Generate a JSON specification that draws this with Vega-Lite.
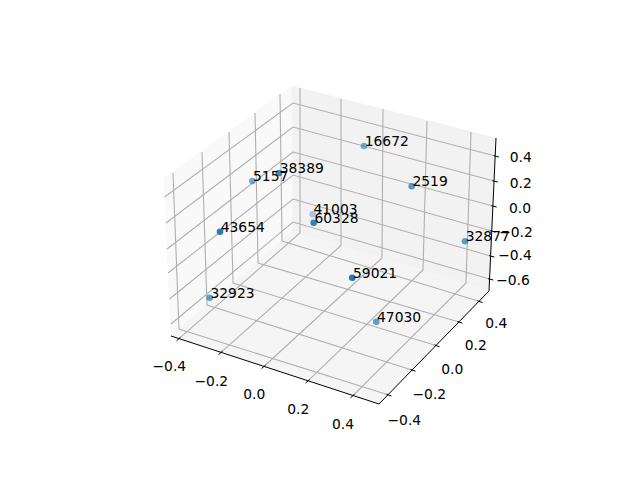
{"$schema":"https://vega.github.io/schema/vega-lite/v6.json","width":640,"height":480,"padding":0,"autosize":{"type":"none"},"background":"white","config":{"view":{"stroke":null}},
"datasets":{
"panes":[
{"pane":"left","n":0,"h":171,"v":336},{"pane":"left","n":1,"h":164,"v":178},{"pane":"left","n":2,"h":292,"v":86},{"pane":"left","n":3,"h":293,"v":231},
{"pane":"right","n":0,"h":293,"v":231},{"pane":"right","n":1,"h":292,"v":86},{"pane":"right","n":2,"h":496,"v":138},{"pane":"right","n":3,"h":489,"v":291},
{"pane":"floor","n":0,"h":171,"v":336},{"pane":"floor","n":1,"h":293,"v":231},{"pane":"floor","n":2,"h":489,"v":291},{"pane":"floor","n":3,"h":379,"v":404}],
"grid":[
{"id":"x1","n":0,"h":179,"v":338.6},{"id":"x1","n":1,"h":300,"v":233},{"id":"x1","n":2,"h":300,"v":88},
{"id":"x2","n":0,"h":221,"v":352.4},{"id":"x2","n":1,"h":341,"v":245.5},{"id":"x2","n":2,"h":341,"v":99},
{"id":"x3","n":0,"h":264,"v":366.5},{"id":"x3","n":1,"h":382,"v":258},{"id":"x3","n":2,"h":383,"v":109},
{"id":"x4","n":0,"h":308,"v":380.8},{"id":"x4","n":1,"h":423,"v":270},{"id":"x4","n":2,"h":427,"v":121},
{"id":"x5","n":0,"h":353,"v":395.6},{"id":"x5","n":1,"h":466,"v":283},{"id":"x5","n":2,"h":471,"v":132},
{"id":"y1","n":0,"h":388,"v":394.8},{"id":"y1","n":1,"h":179,"v":329},{"id":"y1","n":2,"h":173,"v":173},
{"id":"y2","n":0,"h":412,"v":370},{"id":"y2","n":1,"h":207,"v":305},{"id":"y2","n":2,"h":202,"v":152},
{"id":"y3","n":0,"h":436,"v":345.5},{"id":"y3","n":1,"h":233,"v":283},{"id":"y3","n":2,"h":229,"v":132},
{"id":"y4","n":0,"h":459,"v":322},{"id":"y4","n":1,"h":258,"v":263},{"id":"y4","n":2,"h":255,"v":113},
{"id":"y5","n":0,"h":479,"v":301.3},{"id":"y5","n":1,"h":282,"v":241},{"id":"y5","n":2,"h":280,"v":94},
{"id":"z1","n":0,"h":171,"v":324},{"id":"z1","n":1,"h":293,"v":222},{"id":"z1","n":2,"h":489.5,"v":279},
{"id":"z2","n":0,"h":169.5,"v":299},{"id":"z2","n":1,"h":293,"v":199},{"id":"z2","n":2,"h":490.6,"v":256},
{"id":"z3","n":0,"h":168,"v":273},{"id":"z3","n":1,"h":293,"v":175},{"id":"z3","n":2,"h":491.7,"v":231},
{"id":"z4","n":0,"h":167,"v":249},{"id":"z4","n":1,"h":293,"v":152},{"id":"z4","n":2,"h":492.9,"v":206},
{"id":"z5","n":0,"h":166,"v":223},{"id":"z5","n":1,"h":293,"v":127},{"id":"z5","n":2,"h":494,"v":181},
{"id":"z6","n":0,"h":164.5,"v":197},{"id":"z6","n":1,"h":293,"v":103},{"id":"z6","n":2,"h":495.2,"v":156}],
"axes":[
{"id":"axis","n":0,"h":171,"v":336},{"id":"axis","n":1,"h":379,"v":404},{"id":"axis","n":2,"h":489,"v":291},{"id":"axis","n":3,"h":496,"v":138},
{"id":"tx1","n":0,"h":180.5,"v":337.3},{"id":"tx1","n":1,"h":176.5,"v":340.8},
{"id":"tx2","n":0,"h":222.5,"v":351.1},{"id":"tx2","n":1,"h":218.5,"v":354.6},
{"id":"tx3","n":0,"h":265.5,"v":365.2},{"id":"tx3","n":1,"h":261.5,"v":368.7},
{"id":"tx4","n":0,"h":309.5,"v":379.5},{"id":"tx4","n":1,"h":305.5,"v":383},
{"id":"tx5","n":0,"h":354.5,"v":394.3},{"id":"tx5","n":1,"h":350.5,"v":397.8},
{"id":"ty1","n":0,"h":386.5,"v":394.3},{"id":"ty1","n":1,"h":391.5,"v":396},
{"id":"ty2","n":0,"h":410.5,"v":369.5},{"id":"ty2","n":1,"h":415.5,"v":371.2},
{"id":"ty3","n":0,"h":434.5,"v":345},{"id":"ty3","n":1,"h":439.5,"v":346.7},
{"id":"ty4","n":0,"h":457.5,"v":321.5},{"id":"ty4","n":1,"h":462.5,"v":323.2},
{"id":"ty5","n":0,"h":477.5,"v":300.8},{"id":"ty5","n":1,"h":482.5,"v":302.5},
{"id":"tz1","n":0,"h":493.7,"v":155.7},{"id":"tz1","n":1,"h":499,"v":157},
{"id":"tz2","n":0,"h":492.5,"v":180.7},{"id":"tz2","n":1,"h":497.8,"v":182},
{"id":"tz3","n":0,"h":491.4,"v":205.7},{"id":"tz3","n":1,"h":496.7,"v":207},
{"id":"tz4","n":0,"h":490.2,"v":230.7},{"id":"tz4","n":1,"h":495.5,"v":232},
{"id":"tz5","n":0,"h":489.1,"v":255.7},{"id":"tz5","n":1,"h":494.4,"v":257},
{"id":"tz6","n":0,"h":488,"v":278.7},{"id":"tz6","n":1,"h":493.3,"v":280}],
"ticklabels":[
{"label":"−0.4","h":169.3,"v":367.3},{"label":"−0.2","h":211.3,"v":381.7},{"label":"0.0","h":254.3,"v":395.3},{"label":"0.2","h":298.3,"v":410.3},{"label":"0.4","h":343,"v":425},
{"label":"−0.4","h":404.3,"v":420.7},{"label":"−0.2","h":429.3,"v":395},{"label":"0.0","h":452.3,"v":370.3},{"label":"0.2","h":475.7,"v":346.3},{"label":"0.4","h":496.3,"v":324},
{"label":"0.4","h":520.7,"v":158},{"label":"0.2","h":520.7,"v":184},{"label":"0.0","h":520,"v":209},{"label":"−0.2","h":516,"v":233},{"label":"−0.4","h":515,"v":256},{"label":"−0.6","h":513,"v":281}],
"points":[
{"id":"38389","h":279,"v":173,"depth":0.85},
{"id":"5157","h":252.3,"v":181,"depth":0.6},
{"id":"43654","h":220,"v":231.7,"depth":0.95},
{"id":"41003","h":312.7,"v":214.3,"depth":0.35},
{"id":"60328","h":313.7,"v":222.7,"depth":0.9},
{"id":"16672","h":364,"v":146,"depth":0.6},
{"id":"2519","h":411.7,"v":186.3,"depth":0.75},
{"id":"32877","h":465,"v":241.3,"depth":0.7},
{"id":"32923","h":209.7,"v":297.7,"depth":0.7},
{"id":"59021","h":352.3,"v":277.7,"depth":1},
{"id":"47030","h":376.3,"v":321.7,"depth":0.7}]
},
"encoding":{
"x":{"field":"h","type":"quantitative","scale":{"domain":[0,640],"nice":false,"zero":false},"axis":null},
"y":{"field":"v","type":"quantitative","scale":{"domain":[480,0],"nice":false,"zero":false},"axis":null}
},
"layer":[
{"data":{"name":"panes"},"transform":[{"filter":"datum.pane==='left'"}],"mark":{"type":"line","fill":"#f9f9f9","strokeWidth":0.8,"stroke":"#f9f9f9"},"encoding":{"order":{"field":"n"}}},
{"data":{"name":"panes"},"transform":[{"filter":"datum.pane==='right'"}],"mark":{"type":"line","fill":"#f2f2f2","strokeWidth":0.8,"stroke":"#f2f2f2"},"encoding":{"order":{"field":"n"}}},
{"data":{"name":"panes"},"transform":[{"filter":"datum.pane==='floor'"}],"mark":{"type":"line","fill":"#f5f5f5","strokeWidth":0.8,"stroke":"#f5f5f5"},"encoding":{"order":{"field":"n"}}},
{"data":{"name":"grid"},"mark":{"type":"line","stroke":"#b0b0b0","strokeWidth":1.11},"encoding":{"detail":{"field":"id"},"order":{"field":"n"}}},
{"data":{"name":"axes"},"mark":{"type":"line","stroke":"#000000","strokeWidth":1.0},"encoding":{"detail":{"field":"id"},"order":{"field":"n"}}},
{"data":{"name":"ticklabels"},"mark":{"type":"text","font":"DejaVu Sans","fontSize":13.89,"align":"center","baseline":"middle","fill":"#000000"},"encoding":{"text":{"field":"label"}}},
{"data":{"name":"points"},"mark":{"type":"circle","size":44,"color":"#1f77b4"},"encoding":{"opacity":{"field":"depth","type":"quantitative","scale":{"domain":[0,1],"range":[0,1]},"legend":null}}},
{"data":{"name":"points"},"mark":{"type":"text","font":"DejaVu Sans","fontSize":13.89,"align":"left","baseline":"alphabetic","fill":"#000000","dx":0.7},"encoding":{"text":{"field":"id"}}}
]}
